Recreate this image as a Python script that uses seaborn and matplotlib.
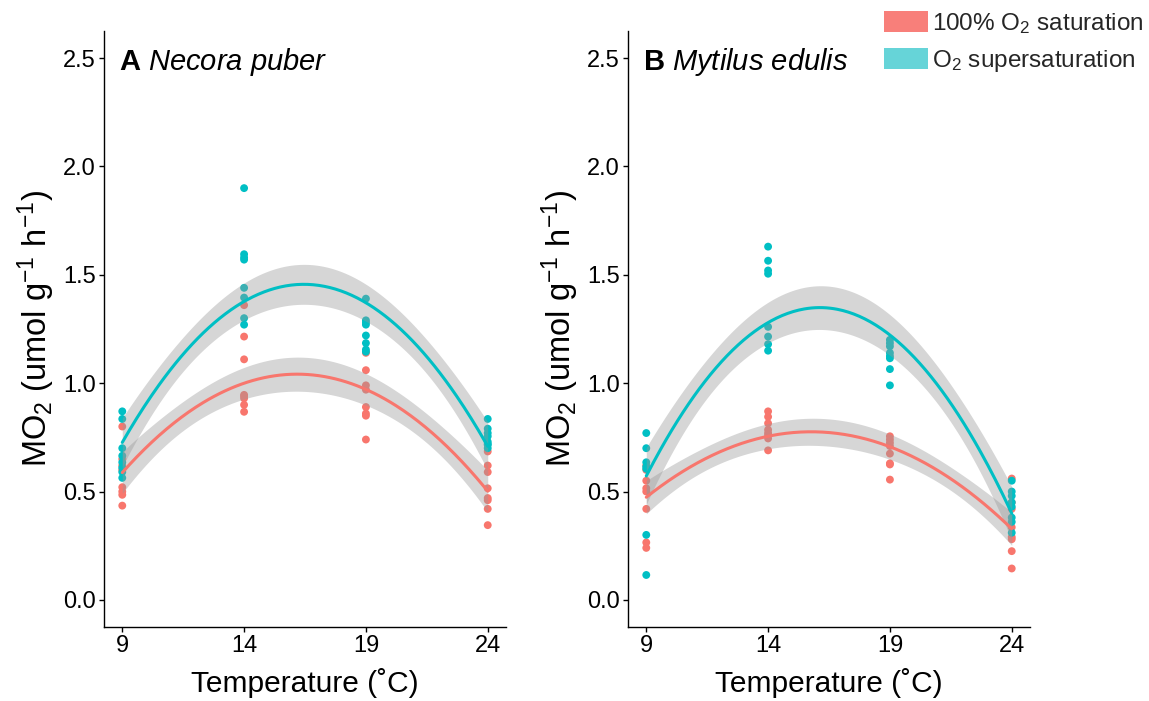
import numpy as np
import pandas as pd
import matplotlib
matplotlib.use("Agg")
import matplotlib.pyplot as plt
import seaborn as sns
from matplotlib.patches import Patch

sns.set_theme(style="white")
plt.rcParams['font.family'] = ['Liberation Sans', 'DejaVu Sans']
plt.rcParams['mathtext.fontset'] = 'custom'
plt.rcParams['mathtext.rm'] = 'Liberation Sans'
plt.rcParams['mathtext.it'] = 'Liberation Sans:italic'
plt.rcParams['mathtext.bf'] = 'Liberation Sans:bold'

temps = [9, 14, 19, 24]
treatments = ["100% O$_2$ saturation", "O$_2$ supersaturation"]
colors = {"norm": "#F8766D", "super": "#00BFC4"}
legend_colors = ["#F87F7A", "#66D4D8"]

# Panel A: Necora puber
necora_norm = {
    9: [0.80, 0.65, 0.62, 0.60, 0.52, 0.50, 0.485, 0.435],
    14: [1.36, 1.215, 1.11, 0.946, 0.94, 0.93, 0.90, 0.868],
    19: [1.14, 1.06, 0.99, 0.97, 0.89, 0.86, 0.85, 0.74],
    24: [0.685, 0.62, 0.59, 0.515, 0.47, 0.46, 0.42, 0.345],
}
necora_super = {
    9: [0.87, 0.835, 0.70, 0.665, 0.635, 0.61, 0.59, 0.563],
    14: [1.90, 1.595, 1.58, 1.57, 1.44, 1.395, 1.30, 1.27],
    19: [1.39, 1.29, 1.28, 1.27, 1.22, 1.185, 1.155, 1.145],
    24: [0.835, 0.79, 0.77, 0.755, 0.73, 0.72, 0.715, 0.70],
}
# Panel B: Mytilus edulis
mytilus_norm = {
    9: [0.62, 0.60, 0.55, 0.515, 0.50, 0.42, 0.265, 0.24],
    14: [0.87, 0.845, 0.815, 0.785, 0.77, 0.76, 0.745, 0.69],
    19: [0.755, 0.74, 0.725, 0.71, 0.675, 0.63, 0.625, 0.555],
    24: [0.56, 0.45, 0.42, 0.335, 0.29, 0.28, 0.225, 0.145],
}
mytilus_super = {
    9: [0.77, 0.70, 0.635, 0.615, 0.605, 0.30, 0.115],
    14: [1.63, 1.565, 1.52, 1.505, 1.26, 1.215, 1.18, 1.15],
    19: [1.20, 1.185, 1.17, 1.14, 1.125, 1.115, 1.065, 0.99],
    24: [0.55, 0.50, 0.48, 0.45, 0.43, 0.38, 0.36, 0.31],
}

T_CRIT = 2.045  # ~95% two-sided t quantile for ~29 df


def to_df(d, grp):
    rows = [(t, v, grp) for t, vals in d.items() for v in vals]
    return pd.DataFrame(rows, columns=["temp", "mo2", "grp"])


def draw_panel(ax, norm, sup, title):
    df = pd.concat([to_df(norm, "norm"), to_df(sup, "super")], ignore_index=True)
    sns.scatterplot(data=df, x="temp", y="mo2", hue="grp", palette=colors,
                    s=32, linewidth=0, legend=False, ax=ax, zorder=2)
    xs = np.linspace(9, 24, 200)
    for grp in ["norm", "super"]:
        sub = df[df.grp == grp]
        x = sub.temp.values.astype(float)
        y = sub.mo2.values
        X = np.column_stack([np.ones_like(x), x, x ** 2])
        beta, res, *_ = np.linalg.lstsq(X, y, rcond=None)
        resid = y - X @ beta
        n = len(y)
        s2 = resid @ resid / (n - 3)
        XtXi = np.linalg.inv(X.T @ X)
        Xs = np.column_stack([np.ones_like(xs), xs, xs ** 2])
        fit = Xs @ beta
        se = np.sqrt(np.einsum('ij,jk,ik->i', Xs, XtXi, Xs) * s2)
        ax.fill_between(xs, fit - T_CRIT * se, fit + T_CRIT * se,
                        color="#999999", alpha=0.4, linewidth=0, zorder=3)
        sns.lineplot(x=xs, y=fit, color=colors[grp], linewidth=2.2, ax=ax, zorder=4)
    ax.set_xlim(8.25, 24.75)
    ax.set_ylim(-0.125, 2.625)
    ax.set_xticks(temps)
    ax.set_yticks([0.0, 0.5, 1.0, 1.5, 2.0, 2.5])
    ax.set_yticklabels(["0.0", "0.5", "1.0", "1.5", "2.0", "2.5"])
    ax.tick_params(axis="both", labelsize=17, colors="black", length=3.5,
                   width=1, direction="out", left=True, bottom=True, pad=2.5)
    for s in ["top", "right"]:
        ax.spines[s].set_visible(False)
    for s in ["left", "bottom"]:
        ax.spines[s].set_color("black")
        ax.spines[s].set_linewidth(1.0)
    ax.set_xlabel("Temperature (˚C)", fontsize=21.5, color="black", labelpad=8)
    ax.set_ylabel("MO$_2$ (umol g$^{-1}$ h$^{-1}$)", fontsize=23.5, color="black", labelpad=4)
    ax.text(0.037, 0.975, title, transform=ax.transAxes, fontsize=21,
            ha="left", va="top", color="black")


fig = plt.figure(figsize=(11.49, 7.01), dpi=100)
axA = fig.add_axes([104 / 1149, 1 - 627 / 701, 402 / 1149, 596 / 701])
axB = fig.add_axes([628 / 1149, 1 - 627 / 701, 402 / 1149, 596 / 701])
draw_panel(axA, necora_norm, necora_super, r"$\bf{A}$ $\it{Necora\ puber}$")
draw_panel(axB, mytilus_norm, mytilus_super, r"$\bf{B}$ $\it{Mytilus\ edulis}$")

handles = [Patch(facecolor=c, edgecolor="none") for c in legend_colors]
fig.legend(handles, treatments, loc="upper left", bbox_to_anchor=(884 / 1149, 1 - 11 / 701),
           frameon=False, fontsize=17.5, handlelength=1.8, handleheight=0.95,
           handletextpad=0.18, labelspacing=0.5, borderaxespad=0, borderpad=0)

fig.savefig("out.png", dpi=100)
